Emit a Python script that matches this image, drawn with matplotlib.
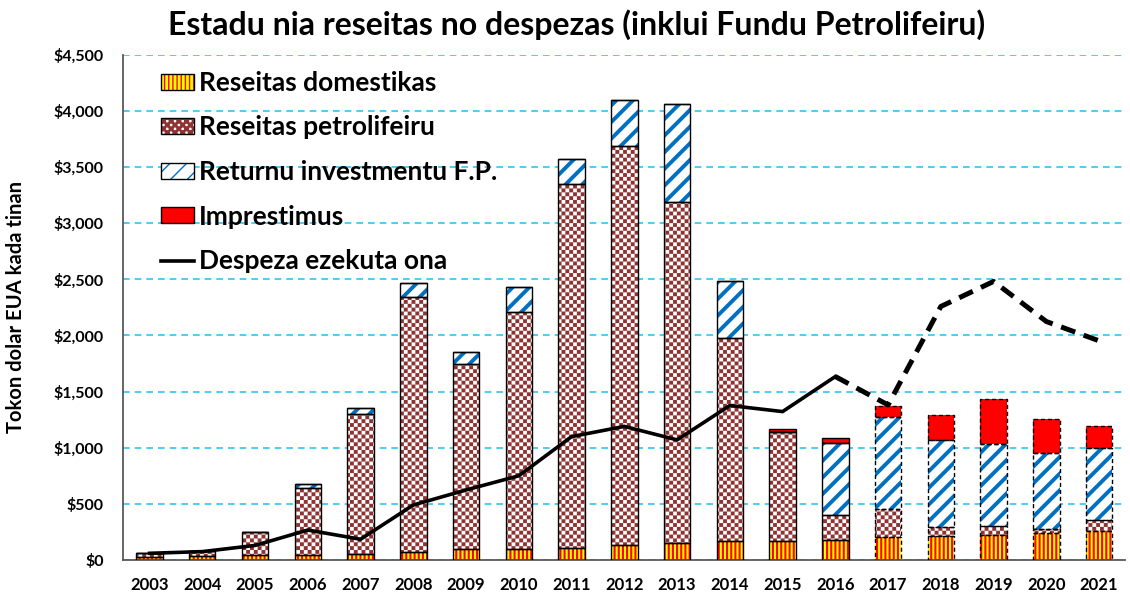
import numpy as np
import matplotlib
matplotlib.use('Agg')
import matplotlib.pyplot as plt
import matplotlib.hatch as mhatch
from matplotlib.path import Path
from matplotlib.patches import Patch
from matplotlib.lines import Line2D
from matplotlib.ticker import FuncFormatter, MultipleLocator

# data (millions of US$ per year)
years = [2003, 2004, 2005, 2006, 2007, 2008, 2009, 2010, 2011, 2012,
         2013, 2014, 2015, 2016, 2017, 2018, 2019, 2020, 2021]
domestic = [30, 32, 45, 45, 50, 68, 95, 95, 104, 131,
            151, 169, 169, 178, 202, 214, 225, 243, 261]
oil = [30, 44, 205, 600, 1254, 2273, 1649, 2112, 3247, 3559,
       3037, 1807, 974, 220, 255, 83, 81, 30, 95]
returns = [0, 0, 0, 35, 48, 125, 110, 220, 223, 410,
           876, 511, 0, 648, 821, 772, 728, 678, 645]
loans = [0, 0, 0, 0, 0, 0, 0, 0, 0, 0,
         0, 0, 25, 38, 98, 223, 404, 303, 193]
spending = [60, 75, 130, 267, 185, 490, 624, 750, 1099, 1190,
            1070, 1376, 1322, 1634, 1381, 2258, 2481, 2124, 1952]
first_planned = 2017   # bars with dashed outline
last_actual = 2016     # line turns dashed after this year

labels = ['Reseitas domestikas', 'Reseitas petrolifeiru',
          'Returnu investmentu F.P.', 'Imprestimus', 'Despeza ezekuta ona']


# checkerboard hatch, hooked in on the 'O' character
class CheckerHatch(mhatch.HatchPatternBase):
    def __init__(self, hatch, density):
        self.n = 26 if 'O' in hatch else 0
        self.num_vertices = (self.n * self.n // 2) * 5

    def set_vertices_and_codes(self, vertices, codes):
        s = 1.0 / self.n
        sq = np.array([[0, 0], [s, 0], [s, s], [0, s], [0, 0]])
        parts = []
        for i in range(self.n):
            for j in range(self.n):
                if (i + j) % 2 == 0:
                    parts.append(sq + [i * s, j * s])
        vertices[:] = np.concatenate(parts)
        codes[:] = np.tile([Path.MOVETO, Path.LINETO, Path.LINETO,
                            Path.LINETO, Path.CLOSEPOLY], len(parts))


mhatch._hatch_types = [CheckerHatch if t is mhatch.LargeCircles else t
                       for t in mhatch._hatch_types]

plt.rcParams['font.family'] = ['Lato', 'DejaVu Sans']
plt.rcParams['font.weight'] = 'bold'

fig = plt.figure(figsize=(11.3, 5.98), dpi=100)
ax = fig.add_axes([0.109, 0.0635, 0.887, 0.845])

x = np.arange(len(years))
w = 0.5

# (values, face, hatch, hatch colour, hatch width)
layers = [
    (domestic, '#FFFF00', '||||', '#FF0000', 1.5),
    (oil, 'white', 'O', '#8E3331', 0.05),
    (returns, 'white', '//', '#0070C0', 2.8),
    (loans, '#FF0000', None, '#FF0000', 1.0),
]

bottom = np.zeros(len(years))
for vals, fc, h, hc, hlw in layers:
    vals = np.array(vals, dtype=float)
    fillbars = ax.bar(x, vals, w, bottom=bottom, facecolor=fc, edgecolor=hc,
                      hatch=h, linewidth=0, zorder=2)
    for p in fillbars:
        if hasattr(p, 'set_hatch_linewidth'):
            p.set_hatch_linewidth(hlw)
    outline = ax.bar(x, vals, w, bottom=bottom, fill=False,
                     edgecolor='black', linewidth=1.0, zorder=3)
    for yr, p in zip(years, outline):
        if yr >= first_planned:
            p.set_linestyle((0, (3, 2)))
    bottom += vals

# spending line
k = years.index(last_actual)
ax.plot(x[:k + 1], spending[:k + 1], color='black', lw=2.6, zorder=4,
        solid_joinstyle='miter')
ax.plot(x[k:], spending[k:], color='black', lw=3.6, zorder=4,
        dashes=(3, 1.8), dash_capstyle='butt')

ax.set_xlim(-0.5, len(years) - 0.5)
ax.set_ylim(0, 4500)
ax.yaxis.set_major_locator(MultipleLocator(500))
ax.yaxis.set_major_formatter(FuncFormatter(lambda v, p: '${:,.0f}'.format(v)))
ax.set_xticks(x)
ax.set_xticklabels([str(y) for y in years])
ax.tick_params(axis='x', length=0, labelsize=12, pad=12)
ax.tick_params(axis='y', length=0, labelsize=11.5, pad=14)
ax.grid(axis='y', color='#33C3F0', linestyle=(0, (4, 3)), lw=1.2, zorder=0)
ax.set_axisbelow(True)
for side in ['top', 'right']:
    ax.spines[side].set_visible(False)
for side in ['left', 'bottom']:
    ax.spines[side].set_color('#595959')
    ax.spines[side].set_linewidth(1.3)

ax.set_ylabel('Tokon dolar EUA kada tinan', fontsize=14.5, fontweight='bold')
ax.yaxis.set_label_coords(-0.097, 0.5)
fig.suptitle('Estadu nia reseitas no despezas (inklui Fundu Petrolifeiru)',
             fontsize=23, fontweight='bold', x=0.51, y=0.985)

# legend
handles = []
for vals, fc, h, hc, hlw in layers:
    hp = Patch(facecolor=fc, edgecolor=hc, hatch=h, linewidth=0)
    if hasattr(hp, 'set_hatch_linewidth'):
        hp.set_hatch_linewidth(hlw)
    handles.append((hp, Patch(fill=False, edgecolor='black', linewidth=1.0)))
handles.append(Line2D([], [], color='black', lw=2.6))
ax.legend(handles, labels, loc='upper left', bbox_to_anchor=(0.014, 1.015),
          frameon=False, fontsize=19, handlelength=1.25, handleheight=0.55,
          handletextpad=0.2, labelspacing=0.78)

fig.savefig('out.png', dpi=100)
